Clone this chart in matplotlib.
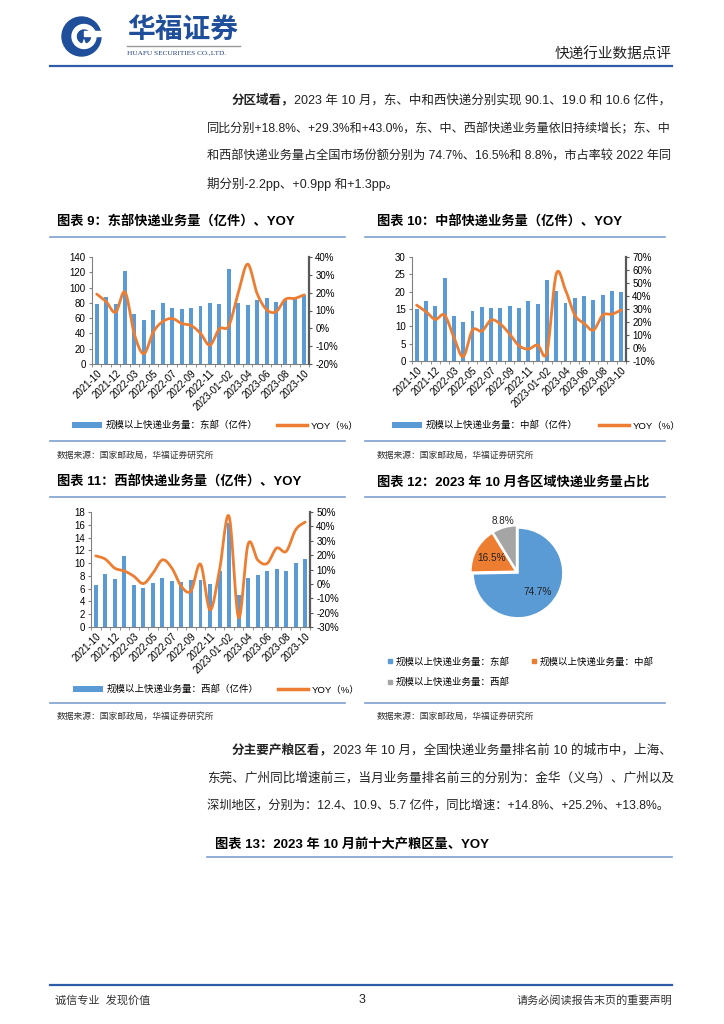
import matplotlib
matplotlib.use("Agg")
import matplotlib.pyplot as plt
import matplotlib.patches as patches
from matplotlib.lines import Line2D
import numpy as np

plt.rcParams["font.family"] = ["Liberation Sans", "Noto Sans CJK SC"]

W, H = 724, 1024
BLUE = "#5b9bd5"
ORANGE = "#ed7d31"
GREY = "#a5a5a5"
NAVY = "#1f4e9a"
RULE = "#7f9fcf"

months = ["2021-10", "2021-11", "2021-12", "2022-01~02", "2022-03", "2022-04",
          "2022-05", "2022-06", "2022-07", "2022-08", "2022-09", "2022-10",
          "2022-11", "2022-12", "2023-01~02", "2023-03", "2023-04", "2023-05",
          "2023-06", "2023-07", "2023-08", "2023-09", "2023-10"]

east_vol = [78, 87.7, 79, 122, 66, 57.1, 71, 79.4, 73.7, 72, 73.7, 75.9,
            79.8, 78.5, 124.7, 79.8, 77.6, 83.3, 86.8, 81.1, 85, 88, 90.1]
east_yoy = [19.2, 15, 9, 20.3, -3.5, -14.2, -2, 3.8, 5.5, 2.7, 1.6, -2.8,
            -9.4, -0.3, 1.4, 20, 36, 19.5, 10.5, 9.3, 16.3, 16.8, 18.8]

mid_vol = [15.0, 17.3, 15.9, 23.8, 12.9, 11.3, 14.4, 15.7, 15.3, 15.2, 15.8, 15.3,
           17.2, 16.3, 23.3, 20.2, 16.6, 18.3, 18.7, 17.5, 19.0, 20.1, 19.9]
mid_yoy = [33, 28, 22, 25.3, 8.2, -6.6, 13.8, 13, 21.5, 18.4, 10.7, 1.8,
           -0.8, 2.3, -3.3, 56.8, 44.5, 25.3, 18.9, 13.8, 25.3, 26, 29.3]

west_vol = [6.5, 8.3, 7.5, 11.15, 6.5, 6.1, 6.9, 7.7, 7.2, 7.0, 7.3, 7.4,
            6.75, 8.8, 16.3, 5.0, 7.7, 8.1, 8.8, 9.05, 8.7, 10.0, 10.6]
west_yoy = [19.5, 17.2, 10.9, 9, 5.3, 0.2, 7.4, 16.7, 10.9, -1.9, -4.9, 13.7,
            -18.1, 9.8, 47, -23.5, 27.7, 16.7, 14.2, 24.9, 22.6, 37.7, 43.0]

share_labels = ["规模以上快递业务量：东部", "规模以上快递业务量：中部", "规模以上快递业务量：西部"]
share_values = [74.7, 16.5, 8.8]

fig = plt.figure(figsize=(W / 100, H / 100), dpi=100)
renderer = fig.canvas.get_renderer()


def fx(x):
    return x / W


def fy(y):
    return 1 - y / H


def px_rect(l, t, r, b):
    return [l / W, 1 - b / H, (r - l) / W, (b - t) / H]


def hline(y, x0, x1, color=RULE, lw=1.2):
    fig.add_artist(Line2D([fx(x0), fx(x1)], [fy(y), fy(y)], color=color, lw=lw,
                          transform=fig.transFigure))


def text_run(x, y, parts, size=9.0, right=None, color="#222222"):
    # draw the parts, then (if right is given) fit the line to the right margin
    texts = [fig.text(fx(x), fy(y), s, fontsize=size, fontweight=w, color=color,
                      ha="left", va="center") for s, w in parts]
    widths = [t.get_window_extent(renderer).width for t in texts]
    if right is not None:
        size = size * (right - x) / sum(widths)
        for t in texts:
            t.set_fontsize(size)
        widths = [t.get_window_extent(renderer).width for t in texts]
    cx = x
    for t, wd in zip(texts, widths):
        t.set_x(fx(cx))
        cx += wd


def smooth(x, y, n=16):
    # excel-style smoothed line through the data points
    x = np.asarray(x, float)
    y = np.asarray(y, float)
    px = np.concatenate([[x[0]], x, [x[-1]]])
    py = np.concatenate([[y[0]], y, [y[-1]]])
    t = np.linspace(0, 1, n, endpoint=False)
    ox, oy = [], []
    for i in range(len(x) - 1):
        p0x, p1x, p2x, p3x = px[i:i + 4]
        p0y, p1y, p2y, p3y = py[i:i + 4]
        c1x, c1y = p1x + (p2x - p0x) / 6, p1y + (p2y - p0y) / 6
        c2x, c2y = p2x - (p3x - p1x) / 6, p2y - (p3y - p1y) / 6
        a, b, c, d = (1 - t) ** 3, 3 * (1 - t) ** 2 * t, 3 * (1 - t) * t ** 2, t ** 3
        ox.extend(a * p1x + b * c1x + c * c2x + d * p2x)
        oy.extend(a * p1y + b * c1y + c * c2y + d * p2y)
    ox.append(x[-1])
    oy.append(y[-1])
    return ox, oy


def combo(box, vol, yoy, vmax, vstep, ylo, yhi, ystep, name, leg_x, leg_y, gap):
    ax = fig.add_axes(px_rect(*box))
    xs = np.arange(len(months))
    ax.bar(xs, vol, width=0.42, color=BLUE, zorder=2)
    ax.set_xlim(-0.5, len(months) - 0.5)
    ax.set_ylim(0, vmax)
    ax.set_yticks(np.arange(0, vmax + 0.1, vstep))
    ax.set_xticks(xs[::2])
    ax.set_xticklabels(months[::2], rotation=45, ha="right", rotation_mode="anchor",
                       fontsize=7)
    ax.set_xticks(np.arange(-0.5, len(months)), minor=True)
    ax.tick_params(axis="x", which="major", length=0, pad=3)
    ax.tick_params(axis="x", which="minor", length=2.5, color="#808080")
    ax.tick_params(axis="y", length=2.5, labelsize=7, color="#808080", pad=2)
    ax.spines["top"].set_visible(False)
    ax.spines["right"].set_visible(False)
    for s in ("left", "bottom"):
        ax.spines[s].set_color("#808080")
        ax.spines[s].set_linewidth(0.8)

    ax2 = ax.twinx()
    sx, sy = smooth(xs, yoy)
    ax2.plot(sx, sy, color=ORANGE, lw=2.0, solid_capstyle="round")
    ax2.set_ylim(ylo, yhi)
    ax2.set_yticks(np.arange(ylo, yhi + 0.1, ystep))
    ax2.set_yticklabels(["%d%%" % v for v in np.arange(ylo, yhi + 0.1, ystep)])
    ax2.tick_params(axis="y", length=2.5, labelsize=7, color="#595959", pad=2)
    ax2.spines["top"].set_visible(False)
    ax2.spines["left"].set_visible(False)
    ax2.spines["bottom"].set_visible(False)
    ax2.spines["right"].set_color("#595959")
    ax2.spines["right"].set_linewidth(1.6)

    handles = [patches.Patch(facecolor=BLUE), Line2D([], [], color=ORANGE, lw=2.5)]
    ax2.legend(handles, [name, "YOY（%）"], loc="center left",
               bbox_to_anchor=(fx(leg_x), fy(leg_y)), bbox_transform=fig.transFigure,
               ncol=2, frameon=False, fontsize=6.8, handlelength=3.2, handleheight=0.6,
               columnspacing=gap, handletextpad=0.4, borderaxespad=0, borderpad=0)


# ---- header ----
logo = fig.add_axes(px_rect(61, 16, 102, 57))
logo.set_xlim(0, 41)
logo.set_ylim(41, 0)
logo.set_aspect("equal")
logo.axis("off")
logo.add_patch(patches.Circle((20.5, 20.5), 19.5, color=NAVY))
logo.add_patch(patches.Circle((23, 20.5), 12, color="white"))
logo.add_patch(patches.Wedge((23, 20.5), 6.5, 110, 430, color=NAVY))
logo.add_patch(patches.Rectangle((23, 15), 18, 5, color="white"))

fig.text(fx(127), fy(32), "华福证券", fontsize=20, fontweight="bold", color=NAVY,
         ha="left", va="center")
hline(46, 127, 240, color="#999999", lw=1)
fig.text(fx(127), fy(52.5), "HUAFU SECURITIES CO.,LTD.", fontsize=5.2,
         family="Liberation Serif", color="#1f3f7a", ha="left", va="center")
fig.text(fx(672), fy(55), "快递行业数据点评", fontsize=10.5, color="#222222",
         ha="right", va="center")
hline(66, 50, 672, color="#2e5ca8", lw=1.6)

# ---- paragraph 1 ----
text_run(232, 100, [("分区域看，", "bold"),
                    ("2023 年 10 月，东、中和西快递分别实现 90.1、19.0 和 10.6 亿件，", "normal")],
         right=672)
text_run(207, 129, [("同比分别+18.8%、+29.3%和+43.0%，东、中、西部快递业务量依旧持续增长；东、中", "normal")],
         right=672)
text_run(207, 157, [("和西部快递业务量占全国市场份额分别为 74.7%、16.5%和 8.8%，市占率较 2022 年同", "normal")],
         right=672)
text_run(207, 184, [("期分别-2.2pp、+0.9pp 和+1.3pp。", "normal")])

# ---- chart titles / rules ----
fig.text(fx(57), fy(222), "图表 9：东部快递业务量（亿件）、YOY", fontsize=9.5,
         fontweight="bold", ha="left", va="center")
fig.text(fx(377), fy(222), "图表 10：中部快递业务量（亿件）、YOY", fontsize=9.5,
         fontweight="bold", ha="left", va="center")
fig.text(fx(57), fy(482), "图表 11：西部快递业务量（亿件）、YOY", fontsize=9.5,
         fontweight="bold", ha="left", va="center")
fig.text(fx(377), fy(482), "图表 12：2023 年 10 月各区域快递业务量占比", fontsize=9.5,
         fontweight="bold", ha="left", va="center")
for y in (237, 441, 497, 703):
    hline(y, 50, 345)
    hline(y, 365, 665)
for x, y in ((57, 455), (377, 455), (57, 716), (377, 716)):
    fig.text(fx(x), fy(y), "数据来源：国家邮政局，华福证券研究所", fontsize=6.3,
             color="#333333", ha="left", va="center")

# ---- charts ----
combo((92, 257, 309, 364), east_vol, east_yoy, 140, 20, -20, 40, 10,
      "规模以上快递业务量：东部（亿件）", 72, 425, 2.0)
combo((412, 257, 626, 361), mid_vol, mid_yoy, 30, 5, -10, 70, 10,
      "规模以上快递业务量：中部（亿件）", 392, 425, 2.2)
combo((91, 512, 310, 627), west_vol, west_yoy, 18, 2, -30, 50, 10,
      "规模以上快递业务量：西部（亿件）", 73, 689, 2.0)

pax = fig.add_axes(px_rect(472, 527, 562, 617))
wedges, _, autotexts = pax.pie(share_values, colors=[BLUE, ORANGE, GREY], startangle=90,
                               counterclock=False, explode=[0.03, 0.03, 0.03],
                               wedgeprops=dict(edgecolor="white", linewidth=1.2),
                               autopct="%.1f%%", pctdistance=0.62,
                               textprops=dict(fontsize=7.2, color="#222222"))
w = wedges[2]
ang = np.deg2rad((w.theta1 + w.theta2) / 2)
autotexts[2].set_position((1.17 * np.cos(ang), 1.17 * np.sin(ang)))
pax.set_xlim(-1, 1)
pax.set_ylim(-1, 1)
pax.set_aspect("equal")

order = [0, 2, 1]
pie_handles = [Line2D([], [], ls="none", marker="s", markersize=2.5,
                      color=[BLUE, ORANGE, GREY][i]) for i in order]
fig.legend(pie_handles, [share_labels[i] for i in order], loc="upper left",
           bbox_to_anchor=(fx(387), fy(657)), ncol=2, frameon=False, fontsize=6.8,
           handlelength=0.6, handletextpad=0.3, columnspacing=2.3, labelspacing=1.1,
           borderaxespad=0, borderpad=0)

# ---- paragraph 2 ----
text_run(232, 750, [("分主要产粮区看，", "bold"),
                    ("2023 年 10 月，全国快递业务量排名前 10 的城市中，上海、", "normal")],
         right=672)
text_run(207, 778, [("东莞、广州同比增速前三，当月业务量排名前三的分别为：金华（义乌）、广州以及", "normal")],
         right=672)
text_run(207, 806, [("深圳地区，分别为：12.4、10.9、5.7 亿件，同比增速：+14.8%、+25.2%、+13.8%。", "normal")],
         right=672)

fig.text(fx(215), fy(845), "图表 13：2023 年 10 月前十大产粮区量、YOY", fontsize=9.5,
         fontweight="bold", ha="left", va="center")
hline(857, 207, 672)

# ---- footer ----
hline(985, 50, 672, color="#2e5ca8", lw=1.6)
fig.text(fx(55), fy(1000), "诚信专业  发现价值", fontsize=8, color="#333333",
         ha="left", va="center")
fig.text(fx(362), fy(1000), "3", fontsize=9, color="#222222", ha="center", va="center")
fig.text(fx(672), fy(1000), "请务必阅读报告末页的重要声明", fontsize=8, color="#333333",
         ha="right", va="center")

fig.savefig("out.png", dpi=100, facecolor="white")
